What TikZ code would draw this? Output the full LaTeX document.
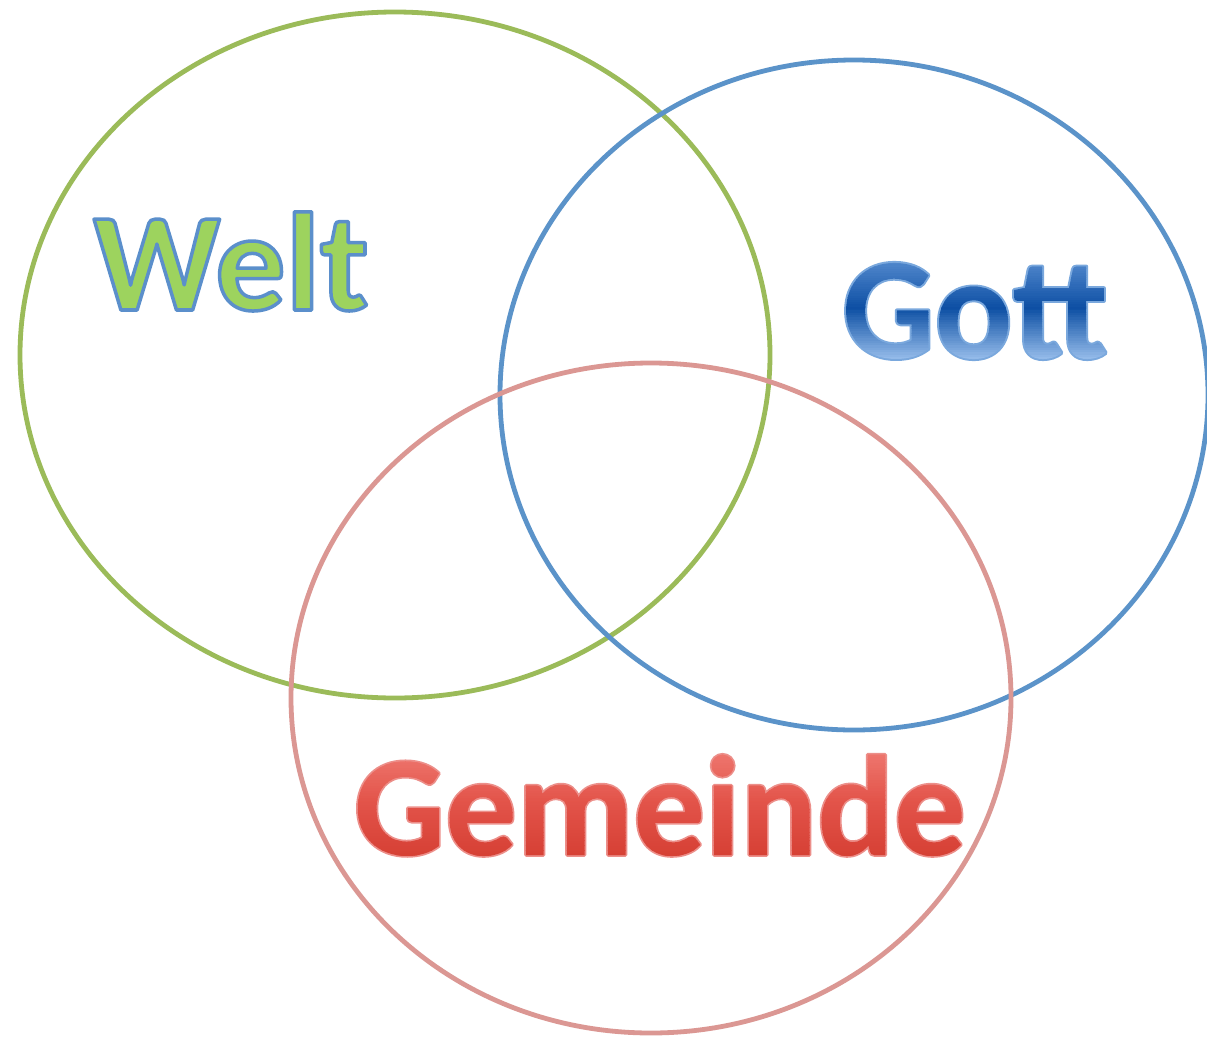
\documentclass[tikz,border=0pt]{standalone}
\usepackage{fontspec}
\setmainfont{Carlito}
\definecolor{ellgreen}{HTML}{9BBB59}
\definecolor{ellblue}{HTML}{5B93C9}
\definecolor{ellred}{HTML}{DB9793}
\definecolor{weltfill}{HTML}{9DD35E}
\definecolor{gottmid}{HTML}{2A66B5}
\definecolor{gembot}{HTML}{DE5A50}
\newcommand\weltfont{\fontsize{140}{140}\selectfont\bfseries}
\newcommand\gottfont{\fontsize{145}{145}\selectfont\bfseries}
\newcommand\gemfont{\fontsize{143}{143}\selectfont\bfseries}
% vertical colour bands painted relative to the current point (used inside a text clip)
\newcommand\txtbands[8]{%
  \foreach \k in {0,...,23}{%
    \pgfmathsetmacro\yb{#1+(#2-#1)*\k/24}%
    \pgfmathsetmacro\hb{(#2-#1)/24+0.6}%
    \pgfmathsetmacro\bR{#3+(#6-#3)*(\k+0.5)/24}%
    \pgfmathsetmacro\bG{#4+(#7-#4)*(\k+0.5)/24}%
    \pgfmathsetmacro\bB{#5+(#8-#5)*(\k+0.5)/24}%
    \special{pdf:content \bR\space\bG\space\bB\space rg -760 \yb\space 790 \hb\space re f}%
  }%
}
\begin{document}
\begin{tikzpicture}[x=1pt,y=-1pt,
  ell/.style={line width=4.8pt},
  lbl/.style={inner sep=0pt, anchor=base}]
\useasboundingbox (0,0) rectangle (1207,1036);
\begin{scope}
\clip (0,0) rectangle (1207,1036);
\draw[ell, draw=ellgreen] (395,355) ellipse [x radius=375, y radius=343];
\draw[ell, draw=ellblue] (854,395) ellipse [x radius=354, y radius=335];
\draw[ell, draw=ellred] (651,698) ellipse [x radius=360, y radius=335];
\end{scope}
% Welt: green fill, blue outline
\node[lbl, font=\weltfont, text=weltfill] (welt) at (231,310)
  {\special{pdf:literal direct q 2 Tr 1 j 3.5 w 0.357 0.561 0.796 RG}Welt\special{pdf:literal direct Q}};
% Gott: blue gradient, light outline
\node[lbl, font=\gottfont, text=gottmid] (gott) at (975,358)
  {\special{pdf:literal direct q 6 Tr 1 j 4 w 0.478 0.659 0.867 RG}Gott%
   \txtbands{-6}{50}{0.639}{0.780}{0.945}{0.047}{0.306}{0.639}%
   \txtbands{49}{102}{0.047}{0.306}{0.639}{0.353}{0.561}{0.824}%
   \special{pdf:literal direct Q}};
% Gemeinde: red gradient, light outline
\node[lbl, font=\gemfont, text=gembot] (gem) at (660,855)
  {\special{pdf:literal direct q 6 Tr 1 j 3.5 w 0.925 0.560 0.540 RG}Gemeinde%
   \txtbands{-6}{55}{0.835}{0.245}{0.200}{0.890}{0.330}{0.290}%
   \txtbands{54}{115}{0.890}{0.330}{0.290}{0.945}{0.500}{0.470}%
   \special{pdf:literal direct Q}};
\end{tikzpicture}
\end{document}
